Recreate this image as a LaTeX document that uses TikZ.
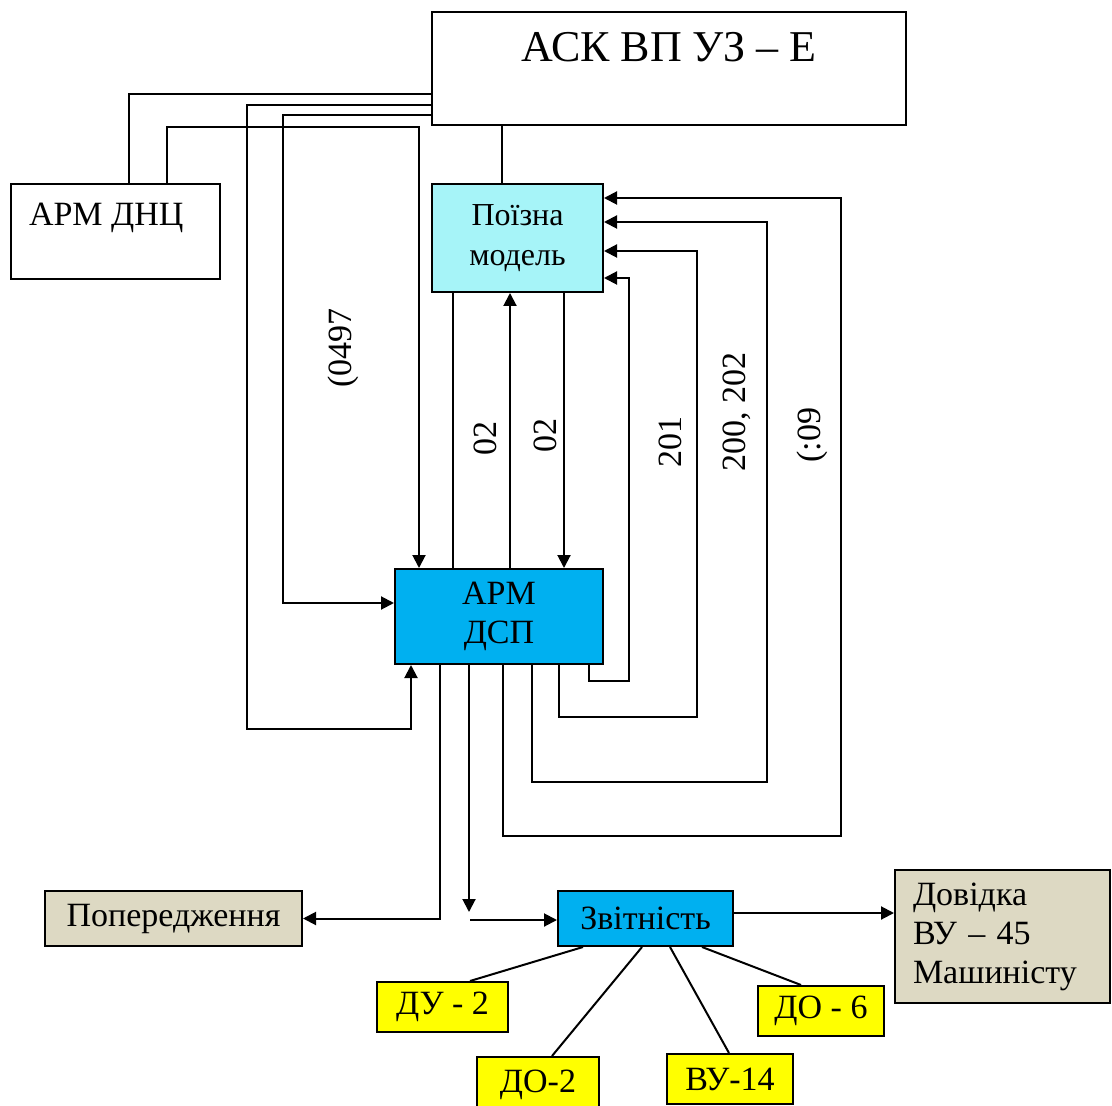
\documentclass[tikz,border=0pt]{standalone}
\usepackage{fontspec}
\setmainfont{Liberation Serif}
\usetikzlibrary{arrows.meta, positioning}
\definecolor{cmodel}{HTML}{A6F4F8}
\definecolor{cdsp}{HTML}{00B0F0}
\definecolor{ctan}{HTML}{DDD9C3}
\definecolor{cyel}{HTML}{FFFF00}
\tikzset{
  every picture/.style={line width=1pt},
  box/.style={draw=black, fill=#1, inner sep=0pt, align=center, font=\fontsize{17}{19.5}\selectfont},
  box/.default=white,
  arrow/.style={-{Triangle[length=6.5pt, width=6.5pt]}},
  code/.style={rotate=90, inner sep=0pt, font=\fontsize{17}{20}\selectfont},
}

\begin{document}
\begin{tikzpicture}[x=0.5pt, y=-0.5pt]
  \useasboundingbox (0,0) rectangle (1112,1106);
  % boxes
  \node[box, minimum width=237pt, minimum height=56.5pt,
    label={[anchor=north, inner sep=0pt, yshift=-10pt, font=\fontsize{22}{24}\selectfont]north:АСК ВП УЗ – Е}] (ask) at (669,68.5) {};
  \node[box, minimum width=104.5pt, minimum height=47.5pt,
    label={[anchor=north west, inner sep=0pt, xshift=9pt, yshift=-9.5pt, font=\fontsize{17}{20}\selectfont]north west:АРМ ДНЦ}] (dnc) at (115.5,231.5) {};
  \node[box=cmodel, minimum width=85.5pt, minimum height=54pt, font=\fontsize{16}{20}\selectfont] (model) at (517.5,238) {Поїзна\\модель};
  \node[box=cdsp, minimum width=104pt, minimum height=47.5pt] (dsp) at (499,616.5) {АРМ\\ДСП};
  \node[box=ctan, minimum width=128.5pt, minimum height=27.5pt] (warn) at (173.5,918.5) {Попередження};
  \node[box=cdsp, minimum width=87.5pt, minimum height=27.5pt] (report) at (645.5,918.5) {Звітність};
  \node[box=ctan, minimum width=107.5pt, minimum height=66.5pt, text width=89.5pt, align=left] (info) at (1002.5,936.5) {Довідка\\ВУ – 45\\Машиністу};
  \node[box=cyel, minimum width=65.5pt, minimum height=25pt] (du2) at (442.5,1007) {ДУ - 2};
  \node[box=cyel, minimum width=61pt, minimum height=27.5pt] (do2) at (538,1084.5) {ДО-2};
  \node[box=cyel, minimum width=63pt, minimum height=25pt] (vu14) at (730,1079) {ВУ-14};
  \node[box=cyel, minimum width=63pt, minimum height=25pt] (do6) at (821,1011) {ДО - 6};

  % codes on the lines
  \node[code] (c0497) at (343,348) {(0497};
  \node[code] (c02a) at (485,439) {02};
  \node[code] (c02b) at (545,435) {02};
  \node[code] (c201) at (670,442) {201};
  \node[code] (c200) at (737,412) {200, 202};
  \node[code] (c09) at (812,435) {(:09};

  % upper links
  \draw (ask.west |- 0,94) -| (dnc.north -| 129,0);
  \draw[arrow] (ask.west |- 0,105) -| (247,729) -| (dsp.south -| 411,0);
  \draw[arrow] (ask.west |- 0,115) -| (283,603) -- (dsp.west |- 0,603);
  \draw[arrow] (dnc.north -| 167,0) |- (419,127) -- (dsp.north -| 419,0);
  \draw (ask.south -| 502,0) -- (model.north -| 502,0);
  \draw (model.south -| 453,0) -- (dsp.north -| 453,0);
  \draw[arrow] (dsp.north -| 510,0) -- (model.south -| 510,0);
  \draw[arrow] (model.south -| 564,0) -- (dsp.north -| 564,0);

  % loops back to the model
  \draw[arrow] (dsp.south -| 589,0) |- (629,681) |- (model.east |- 0,278);
  \draw[arrow] (dsp.south -| 559,0) |- (697,717) |- (model.east |- 0,251);
  \draw[arrow] (dsp.south -| 532,0) |- (767,782) |- (model.east |- 0,222);
  \draw[arrow] (dsp.south -| 503,0) |- (841,836) |- (model.east |- 0,198);

  % lower links
  \coordinate (split) at (469,912);
  \coordinate (turn) at (470,920);
  \draw[arrow] (dsp.south -| 440,0) |- (warn.east);
  \draw[arrow] (dsp.south -| split) -- (split);
  \draw[arrow] (turn) -- (report.west |- turn);
  \draw[arrow] (report.east |- 0,913) -- (info.west |- 0,913);
  \draw (report.south -| 583,0) -- (du2.north -| 470,0);
  \draw (report.south -| 642,0) -- (do2.north -| 552,0);
  \draw (report.south -| 670,0) -- (vu14.north -| 729,0);
  \draw (report.south -| 702,0) -- (do6.north -| 801,0);
\end{tikzpicture}
\end{document}
